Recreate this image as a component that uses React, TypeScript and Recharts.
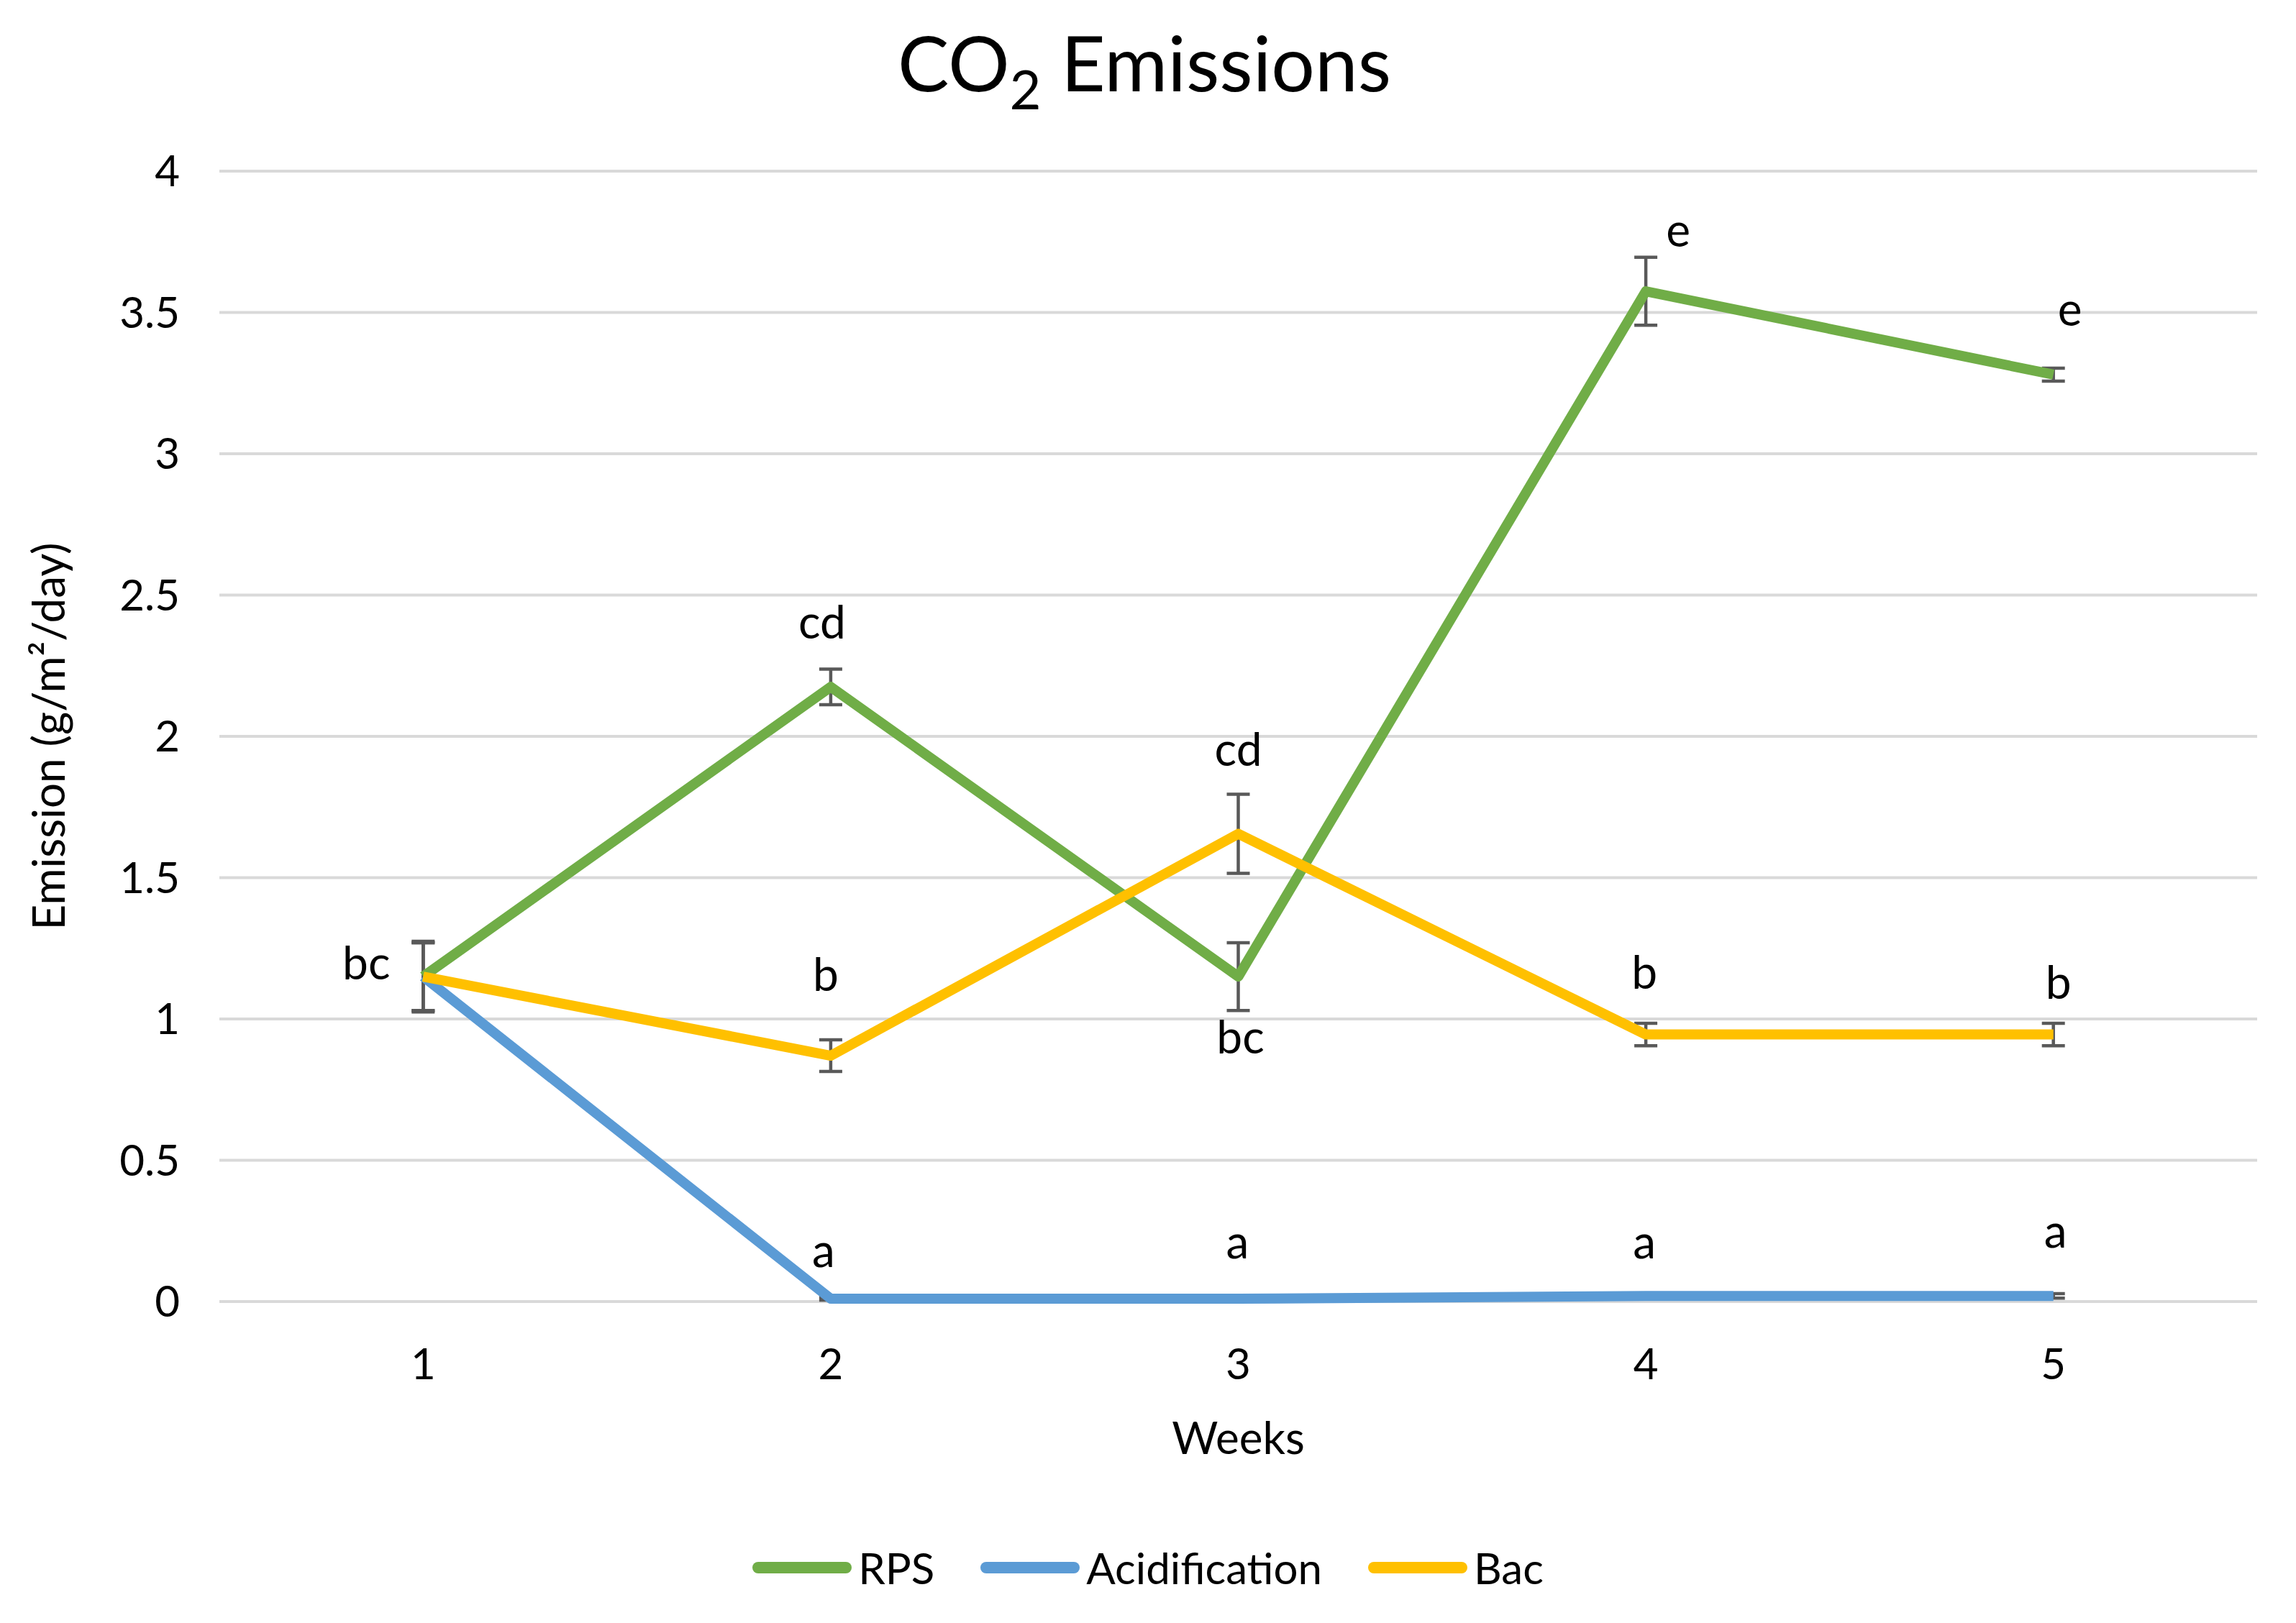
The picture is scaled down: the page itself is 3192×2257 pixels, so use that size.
import React from 'react';
import {
  LineChart,
  Line,
  XAxis,
  YAxis,
  CartesianGrid,
  ErrorBar,
  LabelList,
  Legend,
  Label,
} from 'recharts';

// ---------- data ----------
const weeks = [1, 2, 3, 4, 5];

const rpsValues = [1.15, 2.175, 1.15, 3.575, 3.28];
const rpsErrors = [0.125, 0.063, 0.12, 0.12, 0.023];
const rpsLetters = ['bc', 'cd', 'bc', 'e', 'e'];

const acidValues = [1.15, 0.01, 0.01, 0.02, 0.02];
const acidErrors = [0.12, 0.005, 0.005, 0.005, 0.008];
const acidLetters = ['', 'a', 'a', 'a', 'a'];

const bacValues = [1.15, 0.87, 1.655, 0.945, 0.945];
const bacErrors = [0.12, 0.056, 0.14, 0.04, 0.04];
const bacLetters = ['', 'b', 'cd', 'b', 'b'];

const yTicks = [0, 0.5, 1, 1.5, 2, 2.5, 3, 3.5, 4];
const seriesNames = ['RPS', 'Acidification', 'Bac'];
const chartTitleMain = 'CO';
const chartTitleSub = '2';
const chartTitleRest = ' Emissions';
const xAxisTitle = 'Weeks';
const yAxisTitle = 'Emission (g/m²/day)';

// ---------- styles ----------
const FONT = "Lato, 'Open Sans', 'Noto Sans', sans-serif";
const COLORS = ['#70AD47', '#5B9BD5', '#FFC000'];
const ERR_COLOR = '#595959';
const W = 3192;
const H = 2257;

// letter placement relative to each point (pixels: dx, baseline dy)
const LETTER_OFFSETS: Record<string, number[][]> = {
  rps: [[-79, 4], [-12, -67], [3, 107], [45, -62], [23, -68]],
  acid: [[0, 0], [-10, -44], [-1, -56], [-2, -52], [3, -67]],
  bac: [[0, 0], [-7, -90], [0, -95], [-2, -64], [7, -50]],
};
const LETTERS: Record<string, string[]> = {
  rps: rpsLetters,
  acid: acidLetters,
  bac: bacLetters,
};

const data = weeks.map((w, i) => ({
  week: w,
  rps: rpsValues[i],
  rpsErr: rpsErrors[i],
  acid: acidValues[i],
  acidErr: acidErrors[i],
  bac: bacValues[i],
  bacErr: bacErrors[i],
}));

const makeLetterRenderer = (key: string) => (props: any) => {
  const vb = props.viewBox || {};
  const x = vb.x ?? props.x;
  const y = vb.y ?? props.y;
  const idx = weeks.indexOf(Number(props.value));
  if (idx < 0 || x == null || y == null) return null;
  const letter = LETTERS[key][idx];
  if (!letter) return null;
  const [dx, dy] = LETTER_OFFSETS[key][idx];
  return (
    <text
      x={x + dx}
      y={y + dy}
      textAnchor="middle"
      fontSize={64}
      fontFamily={FONT}
      fill="#000"
    >
      {letter}
    </text>
  );
};

const LegendContent = () => (
  <div
    style={{
      display: 'flex',
      justifyContent: 'center',
      alignItems: 'center',
      height: 70,
      fontFamily: FONT,
      fontSize: 60,
      color: '#000',
      width: W,
    }}
  >
    {seriesNames.map((name, i) => (
      <div
        key={name}
        style={{ display: 'flex', alignItems: 'center', marginLeft: i === 0 ? 0 : 64 }}
      >
        <svg width={138} height={16} style={{ display: 'block', marginRight: 9 }}>
          <line
            x1={8}
            y1={8}
            x2={130}
            y2={8}
            stroke={COLORS[i]}
            strokeWidth={16}
            strokeLinecap="round"
          />
        </svg>
        <span style={{ lineHeight: '70px' }}>{name}</span>
      </div>
    ))}
  </div>
);

const XTitle = (props: any) => {
  const vb = props.viewBox || { x: 305, y: 1810, width: 2833, height: 447 };
  return (
    <text
      x={vb.x + vb.width / 2}
      y={vb.y + 212}
      textAnchor="middle"
      fontSize={62}
      fontFamily={FONT}
      fill="#000"
    >
      {xAxisTitle}
    </text>
  );
};

const YTitle = (props: any) => {
  const vb = props.viewBox || { x: 0, y: 238, width: 305, height: 1572 };
  const cx = 90;
  const cy = vb.y + vb.height / 2;
  return (
    <text
      x={cx}
      y={cy}
      transform={`rotate(-90, ${cx}, ${cy})`}
      textAnchor="middle"
      fontSize={62}
      fontFamily={FONT}
      fill="#000"
    >
      {yAxisTitle}
    </text>
  );
};

const tickStyle = { fontSize: 60, fill: '#000', fontFamily: FONT };

export default function App() {
  const keys = ['rps', 'acid', 'bac'];
  return (
    <div
      style={{
        position: 'absolute',
        left: 0,
        top: 0,
        width: W,
        height: H,
        background: '#fff',
        overflow: 'hidden',
      }}
    >
      <LineChart
        width={W}
        height={H}
        data={data}
        margin={{ top: 238, right: 54, bottom: 0, left: 0 }}
      >
        <CartesianGrid
          horizontal
          vertical={false}
          stroke="#d9d9d9"
          strokeWidth={4}
        />
        <XAxis
          dataKey="week"
          type="number"
          domain={[0.5, 5.5]}
          ticks={weeks}
          height={447}
          axisLine={false}
          tickLine={false}
          tickSize={0}
          tickMargin={65}
          tick={tickStyle}
          interval={0}
        >
          <Label content={<XTitle />} />
        </XAxis>
        <YAxis
          type="number"
          domain={[0, 4]}
          ticks={yTicks}
          width={305}
          axisLine={false}
          tickLine={false}
          tickSize={0}
          tickMargin={55}
          tick={tickStyle}
          interval={0}
        >
          <Label content={<YTitle />} />
        </YAxis>

        {/* error bars drawn beneath the lines */}
        {keys.map((k) => (
          <Line
            key={`err-${k}`}
            dataKey={k}
            stroke="none"
            dot={false}
            activeDot={false}
            legendType="none"
            isAnimationActive={false}
          >
            <ErrorBar
              dataKey={`${k}Err`}
              direction="y"
              width={16}
              strokeWidth={4.5}
              stroke={ERR_COLOR}
              isAnimationActive={false}
            />
          </Line>
        ))}

        {keys.map((k, i) => (
          <Line
            key={k}
            type="linear"
            dataKey={k}
            name={seriesNames[i]}
            stroke={COLORS[i]}
            strokeWidth={14}
            strokeLinejoin="round"
            dot={false}
            activeDot={false}
            isAnimationActive={false}
          >
            <LabelList dataKey="week" content={makeLetterRenderer(k)} />
          </Line>
        ))}

        <Legend
          layout="horizontal"
          verticalAlign="middle"
          align="center"
          content={<LegendContent />}
          wrapperStyle={{ left: 0, top: 2145, bottom: 'auto', width: W, height: 70 }}
        />
      </LineChart>

      <svg
        width={W}
        height={200}
        style={{ position: 'absolute', left: 0, top: 0, pointerEvents: 'none' }}
      >
        <text
          x={1591}
          y={127}
          textAnchor="middle"
          fontSize={107}
          fontFamily={FONT}
          fill="#000"
        >
          {chartTitleMain}
          <tspan fontSize={76} dy={25}>
            {chartTitleSub}
          </tspan>
          <tspan dy={-25}>{chartTitleRest}</tspan>
        </text>
      </svg>
    </div>
  );
}
